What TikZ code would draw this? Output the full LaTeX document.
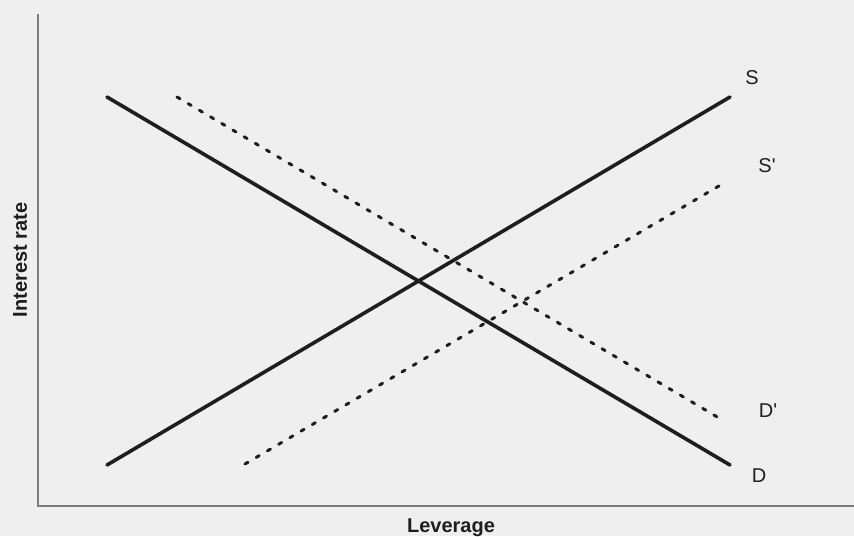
\documentclass[tikz,border=0pt]{standalone}
\usepackage{fontspec}
\setmainfont{Liberation Sans}
\usetikzlibrary{positioning}
\definecolor{bggray}{RGB}{239,239,239}
\definecolor{ink}{RGB}{30,30,30}
\definecolor{axisgray}{RGB}{125,125,125}
\tikzset{
  curve/.style = {line width=3.6pt, ink, line cap=round},
  shifted/.style = {line width=3pt, ink, line cap=round, dash pattern=on 3.5pt off 9.5pt},
  lbl/.style = {font=\fontsize{20}{24}\selectfont, text=ink, inner sep=0pt},
  axlbl/.style = {font=\bfseries\fontsize{20}{24}\selectfont, text=ink, inner sep=0pt},
  axis/.style = {axisgray, line width=1.2pt}
}
\begin{document}
\begin{tikzpicture}[x=1pt, y=-1pt]
\fill[bggray] (0,0) rectangle (854,536);
\useasboundingbox (0,0) rectangle (854,536);

% ----- AXES -----
\coordinate (ytop) at (38,14);
\coordinate (orig) at (38,506);
\coordinate (xend) at (854,506);
\draw[axis] (ytop) -- (orig) -- (xend);
\node[axlbl, rotate=90] (ylab) at (20,260) {Interest rate};
\node[axlbl, anchor=base] (xlab) at (451,532) {Leverage};

% ----- CURVE END POINTS -----
\coordinate (s0) at (107,465);
\coordinate (s1) at (730,97);
\coordinate (d0) at (107,97);
\coordinate (d1) at (730,465);
\coordinate (sp0) at (245,464);
\coordinate (sp1) at (724,183);
\coordinate (dp0) at (177,97);
\coordinate (dp1) at (724,421);

% ----- CURVES -----
% Supply and demand
\draw[curve] (s0) -- (s1);
\draw[curve] (d0) -- (d1);
% Shifted supply and demand
\draw[shifted] (sp0) -- (sp1);
\draw[shifted] (dp0) -- (dp1);

% ----- LABELS -----
\node[lbl] (slab) at (752,78) {S};
\node[lbl] (splab) at (767,166) {S\textquotesingle};
\node[lbl] (dplab) at (768,411) {D\textquotesingle};
\node[lbl] (dlab) at (759,476) {D};

\end{tikzpicture}
\end{document}
